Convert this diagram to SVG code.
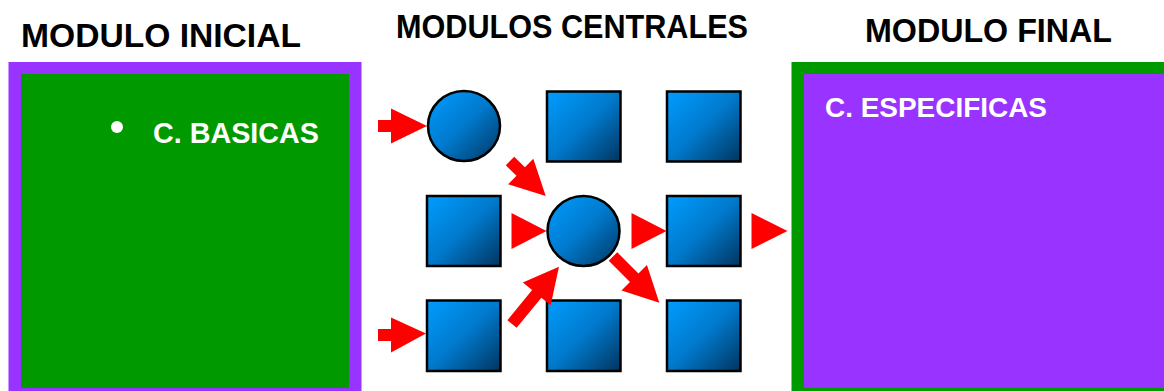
<svg xmlns="http://www.w3.org/2000/svg" width="1164" height="391" viewBox="0 0 1164 391">
  <style>
    .title { font-family: "Century Gothic", "Liberation Sans", Arial, sans-serif; font-weight: bold; font-size: 33px; fill: #000; }
    .label { font-family: "Century Gothic", "Liberation Sans", Arial, sans-serif; font-weight: bold; fill: #fff; }
    .blk { fill: url(#blueGrad); stroke: #000; stroke-width: 2.5; }
    .arr { fill: #ff0000; stroke: none; }
  </style>
  <defs>
    <linearGradient id="blueGrad" x1="0" y1="0" x2="1" y2="1">
      <stop offset="0" stop-color="#009dff"/>
      <stop offset="0.5" stop-color="#0079cc"/>
      <stop offset="1" stop-color="#00355f"/>
    </linearGradient>
  </defs>
  <rect width="1164" height="391" fill="#ffffff"/>

  <g id="title-inicial"><text class="title" x="21" y="47" textLength="280" lengthAdjust="spacingAndGlyphs">MODULO INICIAL</text></g>
  <g id="title-centrales"><text class="title" x="396" y="38" textLength="352" lengthAdjust="spacingAndGlyphs">MODULOS CENTRALES</text></g>
  <g id="title-final"><text class="title" x="865" y="41.5" textLength="247" lengthAdjust="spacingAndGlyphs">MODULO FINAL</text></g>

  <g id="modulo-inicial">
    <rect x="8.5" y="62" width="353" height="332" fill="#9933ff"/>
    <rect x="21" y="74" width="328" height="314" fill="#009900"/>
    <circle cx="117" cy="127" r="6" fill="#ffffff"/>
    <text class="label" x="153" y="143" font-size="29" textLength="166" lengthAdjust="spacingAndGlyphs">C. BASICAS</text>
  </g>

  <g id="modulo-final">
    <rect x="791.5" y="62" width="380" height="332" fill="#009900"/>
    <rect x="804" y="74" width="370" height="314" fill="#9933ff"/>
    <text class="label" x="825" y="116.5" font-size="27" textLength="222" lengthAdjust="spacingAndGlyphs">C. ESPECIFICAS</text>
  </g>

  <g id="circle-1"><ellipse class="blk" cx="464" cy="126" rx="36" ry="35" stroke-width="2"/></g>
  <g id="sq-1-2"><rect class="blk" x="547" y="91.5" width="73.5" height="70"/></g>
  <g id="sq-1-3"><rect class="blk" x="667" y="91.5" width="73.5" height="70"/></g>
  <g id="sq-2-1"><rect class="blk" x="427" y="196" width="73.5" height="70"/></g>
  <g id="circle-2"><ellipse class="blk" cx="583.5" cy="231" rx="36" ry="35" stroke-width="2"/></g>
  <g id="sq-2-3"><rect class="blk" x="667" y="196" width="73.5" height="70"/></g>
  <g id="sq-3-1"><rect class="blk" x="427" y="300.5" width="73.5" height="70.5"/></g>
  <g id="sq-3-2"><rect class="blk" x="547" y="300.5" width="73.5" height="70.5"/></g>
  <g id="sq-3-3"><rect class="blk" x="667" y="300.5" width="73.5" height="70.5"/></g>

  <g id="connectors">
    <polygon class="arr" transform="translate(378,126)" points="0,-6 13,-6 13,-17.5 49,0 13,17.5 13,6 0,6"/>
    <polygon class="arr" transform="translate(378,335)" points="0,-6 13,-6 13,-17.5 48,-1.5 13,17.5 13,6 0,6"/>
    <polygon class="arr" transform="translate(511.5,231)" points="0,-18 35,0 0,18"/>
    <polygon class="arr" transform="translate(631.5,231)" points="0,-18 35,0 0,18"/>
    <polygon class="arr" transform="translate(751.5,231)" points="0,-18 36,0 0,18"/>
    <polygon class="arr" transform="translate(510,161) rotate(44.4)" points="0,-6 15,-6 15,-18 50,0 15,18 15,6 0,6"/>
    <polygon class="arr" transform="translate(512,324) rotate(-50.6)" points="0,-6 39,-6 39,-18 74,0 39,18 39,6 0,6"/>
    <polygon class="arr" transform="translate(613,256.5) rotate(45)" points="0,-6 30,-6 30,-18 65.5,0 30,18 30,6 0,6"/>
  </g>
</svg>
